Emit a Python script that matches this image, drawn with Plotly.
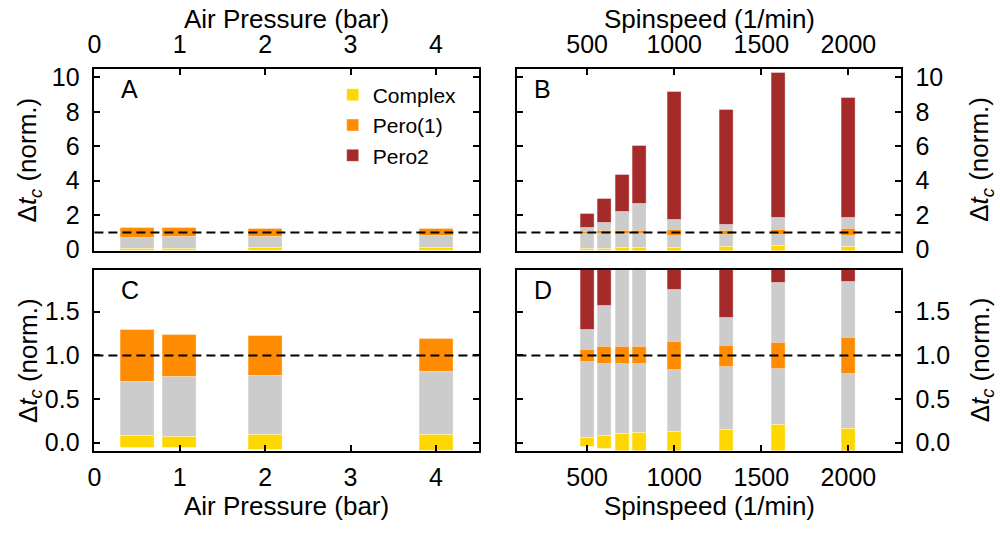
import plotly.graph_objects as go

# ---- data -------------------------------------------------------------
# Air-pressure series (panels A and C)
pressure = [0.5, 1, 2, 4]
p_complex_lo = [-0.063, -0.063, -0.081, -0.09]
p_complex_hi = [0.074, 0.063, 0.085, 0.093]
p_pero1_lo = [0.696, 0.752, 0.770, 0.807]
p_pero1_hi = [1.296, 1.241, 1.222, 1.185]

# Spin-speed series (panels B and D)
spinspeed = [500, 600, 700, 800, 1000, 1300, 1600, 2000]
s_complex_lo = [-0.044, -0.067, -0.10, -0.11, -0.12, -0.145, -0.20, -0.165]
s_complex_hi = [0.056, 0.078, 0.10, 0.11, 0.12, 0.144, 0.204, 0.163]
s_pero1_lo = [0.926, 0.900, 0.900, 0.900, 0.833, 0.874, 0.848, 0.785]
s_pero1_hi = [1.063, 1.096, 1.096, 1.096, 1.156, 1.107, 1.141, 1.207]
s_pero2_lo = [1.296, 1.570, 2.18, 2.64, 1.748, 1.430, 1.833, 1.841]
s_pero2_hi = [2.09, 2.98, 4.36, 6.05, 9.16, 8.14, 10.28, 8.83]

pressure_ticks = [0, 1, 2, 3, 4]
spin_ticks = [500, 1000, 1500, 2000]
top_ticks = [0, 2, 4, 6, 8, 10]
zoom_ticks = [0, 0.5, 1.0, 1.5]

# ---- styling ----------------------------------------------------------
FONT = "Liberation Sans, Arial, sans-serif"
C_COMPLEX = "#FFD700"
C_PERO1 = "#FF8C00"
C_PERO2 = "#A52A2A"
C_GAP = "#CCCCCC"

fig = go.Figure()


def segment(xv, lo, hi, width, xa, ya, color, name, show, rank):
    fig.add_trace(go.Bar(
        x=xv, y=[h - l for l, h in zip(lo, hi)], base=lo, width=width,
        marker=dict(color=color, line=dict(width=0.6, color="rgba(255,255,255,0.6)")),
        name=name, legendgroup=name, showlegend=show, legendrank=rank,
        xaxis=xa, yaxis=ya,
    ))


# pressure panels
for xa, ya, first in (("x", "y", True), ("x3", "y3", False)):
    segment(pressure, p_complex_hi, p_pero1_lo, 0.4, xa, ya, C_GAP, "gap", False, 9)
    segment(pressure, p_complex_lo, p_complex_hi, 0.4, xa, ya, C_COMPLEX, "Complex", first, 1)
    segment(pressure, p_pero1_lo, p_pero1_hi, 0.4, xa, ya, C_PERO1, "Pero(1)", first, 2)

# spin-speed panels
for xa, ya, first in (("x2", "y2", True), ("x4", "y4", False)):
    segment(spinspeed, s_complex_hi, s_pero2_lo, 80, xa, ya, C_GAP, "gap", False, 9)
    segment(spinspeed, s_complex_lo, s_complex_hi, 80, xa, ya, C_COMPLEX, "Complex", False, 1)
    segment(spinspeed, s_pero1_lo, s_pero1_hi, 80, xa, ya, C_PERO1, "Pero(1)", False, 2)
    segment(spinspeed, s_pero2_lo, s_pero2_hi, 80, xa, ya, C_PERO2, "Pero2", first, 3)

W, H = 1000, 538
xdomA = [88 / W, 475 / W]
xdomB = [514 / W, 900 / W]
ydomTop = [1 - 254 / H, 1 - 66 / H]
ydomBot = [1 - 461 / H, 1 - 274 / H]

axis_common = dict(
    showline=True, linecolor="black", linewidth=1.5, mirror=True,
    ticks="inside", ticklen=6, tickwidth=1.5, tickcolor="black",
    showgrid=False, zeroline=False,
    tickfont=dict(family=FONT, size=25, color="black"),
)
yaxis_common = dict(axis_common, mirror="ticks", ticklabelstandoff=8)

fig.update_layout(
    width=W, height=H,
    margin=dict(l=0, r=0, t=0, b=0),
    paper_bgcolor="white", plot_bgcolor="white",
    barmode="overlay", bargap=0,
    font=dict(family=FONT, size=25, color="black"),
    xaxis=dict(axis_common, domain=xdomA, anchor="y", side="top",
               range=[0, 4.5], tickvals=pressure_ticks, ticklabelstandoff=4),
    yaxis=dict(yaxis_common, domain=ydomTop, anchor="x", side="left",
               range=[-0.05, 10.5], tickvals=top_ticks),
    xaxis2=dict(axis_common, domain=xdomB, anchor="y2", side="top",
                range=[100, 2300], tickvals=spin_ticks, ticklabelstandoff=4),
    yaxis2=dict(yaxis_common, domain=ydomTop, anchor="x2", side="right",
                range=[-0.05, 10.5], tickvals=top_ticks),
    xaxis3=dict(axis_common, domain=xdomA, anchor="y3", side="bottom",
                range=[0, 4.5], tickvals=pressure_ticks, ticklabelstandoff=4),
    yaxis3=dict(yaxis_common, domain=ydomBot, anchor="x3", side="left",
                range=[-0.09, 1.98], tickvals=zoom_ticks, tickformat=".1f"),
    xaxis4=dict(axis_common, domain=xdomB, anchor="y4", side="bottom",
                range=[100, 2300], tickvals=spin_ticks, ticklabelstandoff=4),
    yaxis4=dict(yaxis_common, domain=ydomBot, anchor="x4", side="right",
                range=[-0.09, 1.98], tickvals=zoom_ticks, tickformat=".1f"),
    legend=dict(
        x=0.328, y=1 - 72 / H, xanchor="left", yanchor="top",
        bgcolor="rgba(0,0,0,0)", borderwidth=0,
        font=dict(family=FONT, size=21, color="black"),
        traceorder="grouped", tracegroupgap=0,
    ),
)

# reference line at 1.0 in every panel
for xa, ya in (("x", "y"), ("x2", "y2"), ("x3", "y3"), ("x4", "y4")):
    fig.add_shape(type="line", xref=f"{xa} domain", yref=ya,
                  x0=0, x1=1, y0=1, y1=1, layer="above",
                  line=dict(color="black", width=2, dash="9px,5px"))

# panel letters
for xa, ya, letter, xpos in (("x", "y", "A", 0.064), ("x2", "y2", "B", 0.038),
                             ("x3", "y3", "C", 0.064), ("x4", "y4", "D", 0.038)):
    fig.add_annotation(xref=f"{xa} domain", yref=f"{ya} domain", x=xpos, y=0.89,
                       xanchor="left", yanchor="middle", showarrow=False,
                       text=letter, font=dict(family=FONT, size=25, color="black"))

# axis titles
ylabel = "Δ<i>t<sub>c</sub></i> (norm.)"
titles = [
    ("Air Pressure (bar)", sum(xdomA) / 2, 1 - 15 / H, 0),
    ("Spinspeed (1/min)", sum(xdomB) / 2, 1 - 15 / H, 0),
    ("Air Pressure (bar)", sum(xdomA) / 2, 1 - 518 / H, 0),
    ("Spinspeed (1/min)", sum(xdomB) / 2, 1 - 518 / H, 0),
    (ylabel, 22 / W, sum(ydomTop) / 2, -90),
    (ylabel, 22 / W, sum(ydomBot) / 2, -90),
    (ylabel, 981 / W, sum(ydomTop) / 2, -90),
    (ylabel, 981 / W, sum(ydomBot) / 2, -90),
]
for text, x, y, ang in titles:
    fig.add_annotation(xref="paper", yref="paper", x=x, y=y, text=text,
                       textangle=ang, showarrow=False,
                       xanchor="center", yanchor="middle",
                       font=dict(family=FONT, size=26, color="black"))

fig.write_html("out.html")
